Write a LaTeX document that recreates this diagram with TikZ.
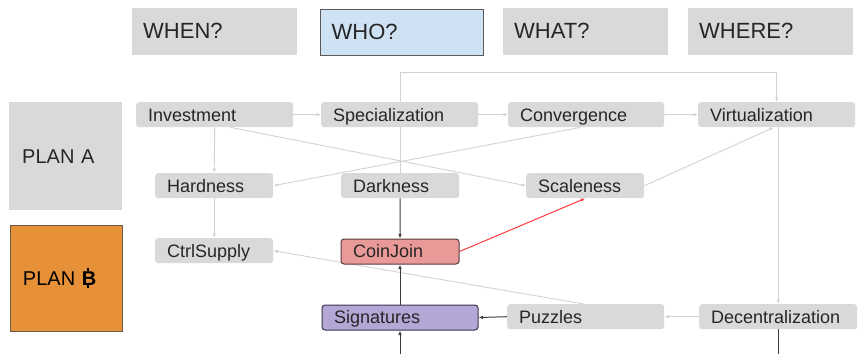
\documentclass[tikz,border=0pt]{standalone}
\usepackage{fontspec}
\setmainfont{Liberation Sans}
\usetikzlibrary{arrows.meta,backgrounds}

\definecolor{boxgray}{HTML}{D9D9D9}
\definecolor{linegray}{HTML}{D2D2D2}
\definecolor{darkline}{HTML}{3C3C3C}
\definecolor{textgray}{HTML}{262626}
\definecolor{whoblue}{HTML}{CFE2F3}
\definecolor{borderdark}{HTML}{595959}
\definecolor{planorange}{HTML}{E69138}
\definecolor{orangeborder}{HTML}{6B5B45}
\definecolor{coinpink}{HTML}{EA9999}
\definecolor{coinborder}{HTML}{5A3A3A}
\definecolor{sigpurple}{HTML}{B4A7D6}
\definecolor{sigborder}{HTML}{3A3450}
\definecolor{redline}{HTML}{FF3B3B}

\newcommand\boxtextsize{\fontsize{18}{20}\selectfont}
\newcommand\headtextsize{\fontsize{22}{24}\selectfont}
\newcommand\plantextsize{\fontsize{20}{22}\selectfont}
% bitcoin sign: a bold B with a short stroke above and below
\newcommand\btcsign{{\bfseries\makebox[0pt][l]{\hspace{0.27em}%
  \rule[0.70em]{0.09em}{0.14em}\hspace{-0.09em}\rule[-0.14em]{0.09em}{0.15em}}B}}

\tikzset{
  gbox/.style={fill=boxgray, rounded corners=3pt, anchor=north west,
    minimum height=25pt, inner xsep=12pt, inner ysep=0pt, align=left,
    text width=#1, text height=12.9pt, text depth=0pt,
    font=\boxtextsize, text=textgray},
  headbox/.style={fill=boxgray, anchor=north west, minimum height=47pt,
    inner xsep=11pt, inner ysep=0pt, align=left, text width=143pt,
    text height=15.8pt, text depth=1.5pt,
    font=\headtextsize, text=textgray},
  planbox/.style={fill=boxgray, anchor=north west, minimum height=108pt,
    inner xsep=13pt, inner ysep=0pt, align=left, text width=87pt,
    text height=14.3pt, text depth=0pt,
    font=\plantextsize, text=textgray},
  tip/.style={-{Latex[length=4.5pt,width=3.6pt]}},
  lightline/.style={draw=linegray, line width=0.9pt},
  lightarrow/.style={lightline, tip},
  darkarrow/.style={draw=darkline, line width=1pt, tip},
}

\begin{document}
\begin{tikzpicture}[x=1pt,y=-1pt]
\useasboundingbox (0,0) rectangle (864,354);

% column headers
\node[headbox] (when) at (132,8) {WHEN?};
\node[headbox, fill=whoblue, draw=borderdark, line width=1.2pt, minimum height=46pt, text width=141pt] (who) at (320,9) {WHO?};
\node[headbox] (what) at (503,8) {WHAT?};
\node[headbox] (where) at (688,8) {WHERE?};

% plans
\node[planbox] (plana) at (9,102) {PLAN A};
\node[planbox, fill=planorange, draw=orangeborder, line width=1pt, minimum height=106pt, text width=86pt, text=black] (planb) at (9.5,224.5) {PLAN \btcsign};

% row 1
\node[gbox=133pt] (inv)  at (136,102) {Investment};
\node[gbox=133pt] (spec) at (321,102) {Specialization};
\node[gbox=132pt] (conv) at (508,102) {Convergence};
\node[gbox=133pt] (virt) at (698,102) {Virtualization};

% row 2
\node[gbox=94pt] (hard) at (155,173) {Hardness};
\node[gbox=94pt] (dark) at (341,173) {Darkness};
\node[gbox=94pt] (scal) at (526,173) {Scaleness};

% row 3
\node[gbox=94pt] (ctrl) at (155,238) {CtrlSupply};
\node[gbox=94pt, fill=coinpink, draw=coinborder, line width=1pt] (coin) at (340.5,238.5) {CoinJoin};

% row 4
\node[gbox=132pt, fill=sigpurple, draw=sigborder, line width=1pt] (sig) at (321.5,304.5) {Signatures};
\node[gbox=133pt] (puz) at (507,304) {Puzzles};
\node[gbox=134pt] (dec) at (699,304) {Decentralization};

\coordinate (sigfeed) at (sig.south |- 0,354);
\coordinate (decout) at (dec.south |- 0,354);

\begin{scope}[on background layer]
  % light connectors
  \draw[lightarrow] (inv) -- (spec);
  \draw[lightarrow] (spec) -- (conv);
  \draw[lightarrow] (conv) -- (virt);
  \draw[lightarrow] (dark.north) -- (dark.north |- 0,72) -| (virt.north);
  \draw[lightarrow] (inv.south) -- (hard.north);
  \draw[lightarrow] (hard.south) -- (ctrl.north);
  \draw[lightarrow] ([xshift=16pt]inv.south) -- (scal.west);
  \draw[lightarrow] ([xshift=-6pt]conv.south) -- (hard.east);
  \draw[lightarrow] (scal.east) -- ([xshift=-3pt]virt.south);
  \draw[lightarrow] (dec.north |- virt.south) -- (dec.north);
  \draw[lightarrow] (dec.west) -- (puz.east);
  \draw[lightarrow] ([xshift=-2pt]puz.north) -- (ctrl.east);
  % dark connectors
  \draw[darkarrow] (dark.south) -- (coin.north);
  \draw[darkarrow] (sig.north) -- (coin.south);
  \draw[darkarrow] (sigfeed) -- (sig.south);
  \draw[darkarrow] (puz.west) -- (sig.east);
  \draw[draw=darkline, line width=1pt] (dec.south) -- (decout);
  % red connector
  \draw[draw=redline, line width=1pt, tip] (coin.east) -- (scal.south);
\end{scope}
\end{tikzpicture}
\end{document}
